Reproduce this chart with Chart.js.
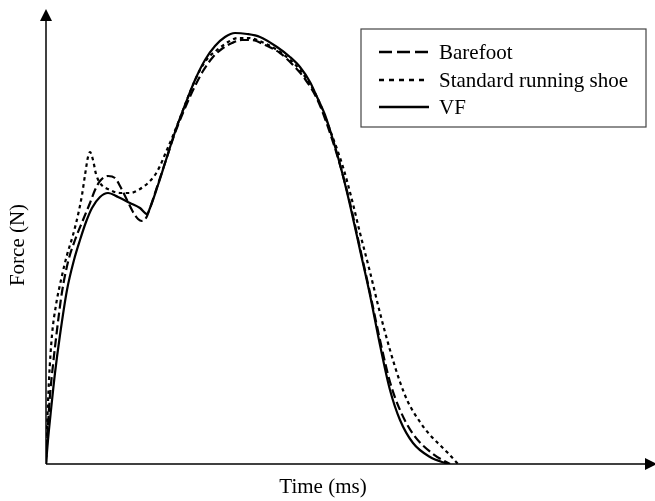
<!DOCTYPE html>
<html>
<head>
<meta charset="utf-8">
<script src="https://cdn.jsdelivr.net/npm/chart.js@4/dist/chart.umd.min.js"></script>
<style>
  body { margin: 0; background: #fff; }
  #wrap { width: 655px; height: 501px; }
</style>
</head>
<body>
<div id="wrap"><canvas id="c"></canvas></div>
<script>
// values (arbitrary units, no ticks in the original)
const LABELS = ['Barefoot', 'Standard running shoe', 'VF'];

const barefootT = [0, 2, 4, 7, 11, 16, 22, 29, 37, 44, 49, 54, 62, 69, 74, 81, 87, 92, 96, 100, 104, 112, 120, 129, 139, 149, 157, 167, 177, 186, 196, 206, 219, 234, 247, 259, 272, 284, 294, 304, 314, 324, 334, 344, 354, 367, 387, 404];
const barefootF = [0, 39, 69, 99, 134, 172, 202, 224, 244, 261, 274, 283, 288, 286, 278, 264, 252, 245, 243, 246, 256, 280, 304, 331, 356, 378, 393, 407, 416, 421, 424, 424, 419, 411, 399, 385, 363, 331, 299, 261, 216, 171, 124, 82, 54, 30, 10, 0];

const shoeT = [0, 1, 3, 6, 10, 15, 21, 27, 32, 36, 39, 42, 44, 47, 50, 54, 64, 74, 84, 94, 102, 109, 114, 120, 126, 134, 144, 154, 162, 171, 182, 192, 202, 216, 234, 254, 271, 284, 297, 306, 314, 324, 334, 344, 354, 362, 374, 384, 401, 412];
const shoeF = [0, 34, 84, 129, 159, 184, 209, 229, 249, 269, 289, 307, 312, 304, 290, 281, 274, 271, 271, 275, 281, 289, 298, 312, 326, 346, 372, 394, 406, 414, 422, 426, 426, 422, 412, 394, 367, 334, 297, 264, 231, 192, 151, 114, 82, 62, 42, 29, 12, 0];

const vfT = [0, 2, 5, 9, 14, 21, 28, 34, 40, 46, 54, 62, 72, 84, 94, 101, 104, 112, 120, 129, 139, 149, 159, 169, 179, 189, 201, 214, 231, 244, 254, 264, 271, 279, 284, 290, 296, 304, 314, 324, 334, 344, 354, 367, 384, 402];
const vfF = [0, 24, 54, 91, 129, 174, 204, 224, 242, 256, 267, 271, 267, 261, 256, 250, 256, 279, 304, 332, 359, 384, 404, 418, 427, 431, 430, 427, 417, 407, 397, 382, 367, 349, 334, 314, 292, 259, 214, 169, 119, 74, 44, 21, 7, 0];

const FONT = '"Liberation Serif", "DejaVu Serif", serif';

function pairs(t, f) {
    return t.map((x, i) => ({ x: x, y: f[i] }));
}

const frame = {
    id: 'frame',
    beforeDatasetsDraw(chart) {
        const ctx = chart.ctx;
        const a = chart.chartArea;
        ctx.save();
        ctx.strokeStyle = '#000';
        ctx.fillStyle = '#000';
        ctx.lineWidth = 1.5;
        // y axis with arrow
        ctx.beginPath();
        ctx.moveTo(a.left, a.bottom);
        ctx.lineTo(a.left, 18);
        ctx.stroke();
        ctx.beginPath();
        ctx.moveTo(a.left, 9);
        ctx.lineTo(a.left - 6, 21);
        ctx.lineTo(a.left + 6, 21);
        ctx.closePath();
        ctx.fill();
        // x axis with arrow
        ctx.beginPath();
        ctx.moveTo(a.left, a.bottom);
        ctx.lineTo(650, a.bottom);
        ctx.stroke();
        ctx.beginPath();
        ctx.moveTo(657, a.bottom);
        ctx.lineTo(645, a.bottom - 6);
        ctx.lineTo(645, a.bottom + 6);
        ctx.closePath();
        ctx.fill();
        // axis titles
        ctx.font = '21px ' + FONT;
        ctx.textAlign = 'center';
        ctx.textBaseline = 'middle';
        ctx.fillText('Time (ms)', (a.left + a.right) / 2, 487);
        ctx.translate(18, (a.top + a.bottom) / 2);
        ctx.rotate(-Math.PI / 2);
        ctx.fillText('Force (N)', 0, 0);
        ctx.restore();
    },
    afterDraw(chart) {
        const ctx = chart.ctx;
        ctx.save();
        ctx.strokeStyle = '#444';
        ctx.lineWidth = 1.2;
        ctx.strokeRect(361, 29, 285, 98);
        const rows = [52, 80, 107];
        ctx.font = '21px ' + FONT;
        ctx.textBaseline = 'middle';
        ctx.textAlign = 'left';
        chart.data.datasets.forEach((ds, i) => {
            ctx.strokeStyle = '#000';
            ctx.lineWidth = 2.4;
            ctx.setLineDash(ds.legendDash || []);
            ctx.beginPath();
            ctx.moveTo(379, rows[i]);
            ctx.lineTo(429, rows[i]);
            ctx.stroke();
            ctx.setLineDash([]);
            ctx.fillStyle = '#000';
            ctx.fillText(ds.label, 439, rows[i] + 1);
        });
        ctx.restore();
    }
};

new Chart(document.getElementById('c'), {
    type: 'line',
    data: {
        datasets: [
            {
                label: LABELS[0],
                data: pairs(barefootT, barefootF),
                borderDash: [9, 4],
                legendDash: [13, 5]
            },
            {
                label: LABELS[1],
                data: pairs(shoeT, shoeF),
                borderDash: [3.5, 3.5],
                legendDash: [5, 5]
            },
            {
                label: LABELS[2],
                data: pairs(vfT, vfF)
            }
        ]
    },
    options: {
        responsive: true,
        maintainAspectRatio: false,
        animation: false,
        layout: { padding: { left: 46, right: 55, top: 26, bottom: 37 } },
        elements: {
            line: { borderColor: '#000', borderWidth: 2.2, cubicInterpolationMode: 'monotone', fill: false },
            point: { radius: 0 }
        },
        plugins: {
            legend: { display: false },
            tooltip: { enabled: false }
        },
        scales: {
            x: { type: 'linear', min: 0, max: 554, display: false },
            y: { min: 0, max: 438, display: false }
        }
    },
    plugins: [frame]
});
</script>
</body>
</html>
